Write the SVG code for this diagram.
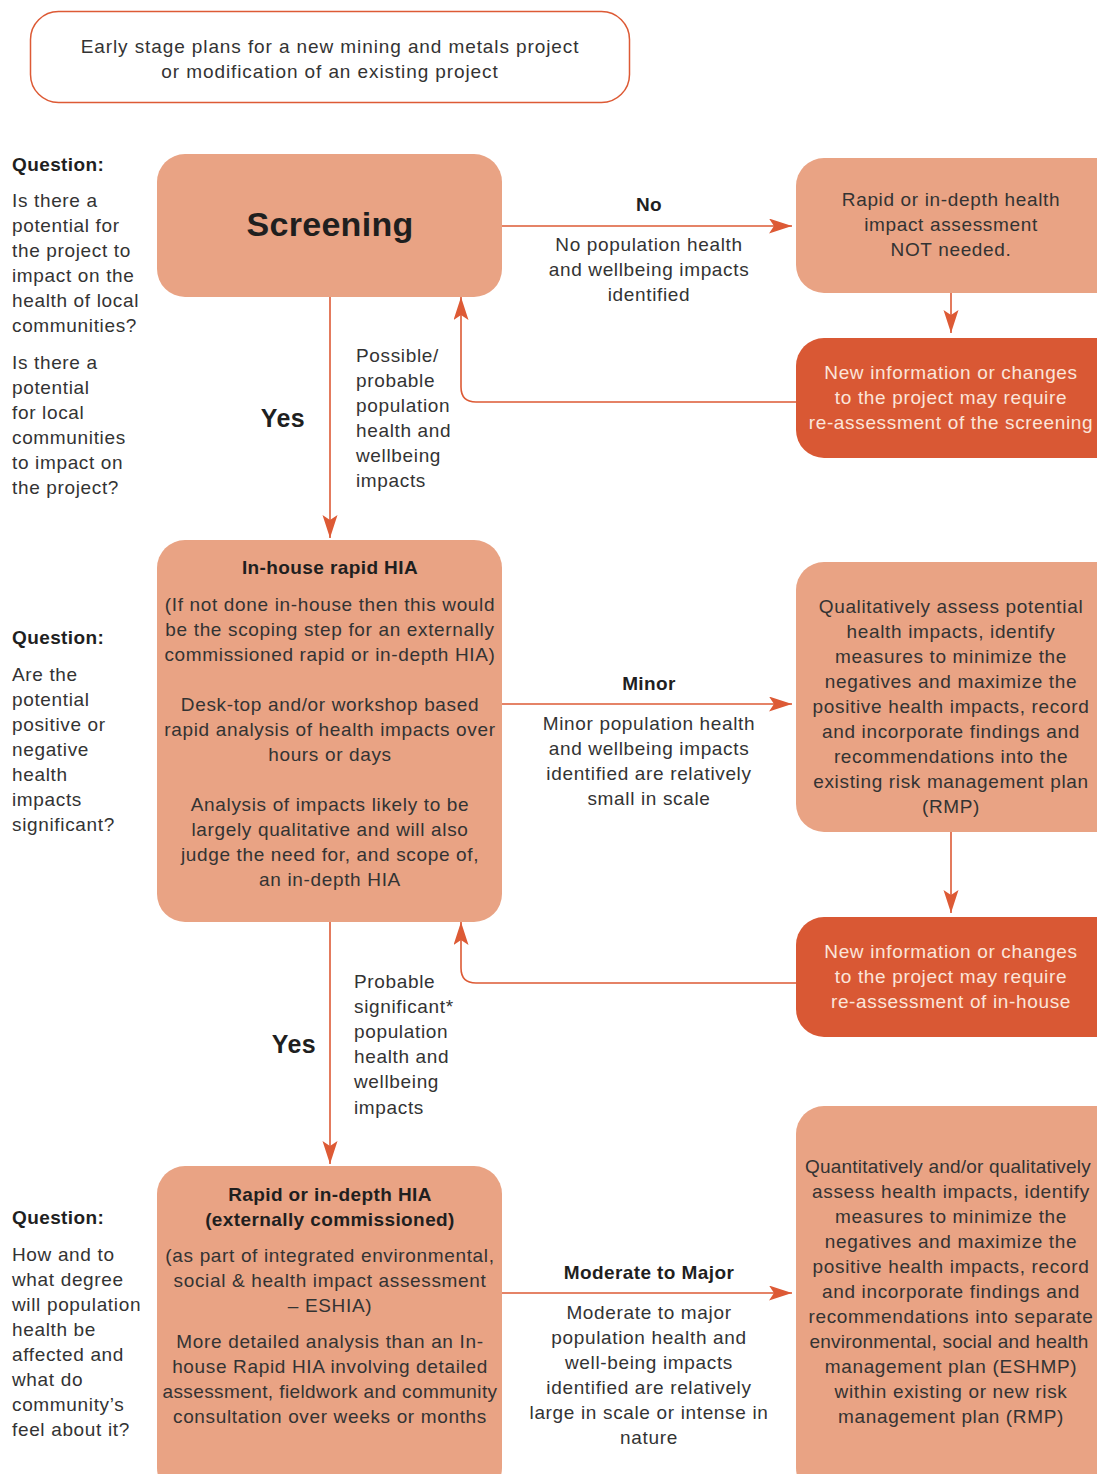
<svg xmlns="http://www.w3.org/2000/svg" width="1097" height="1474" viewBox="0 0 1097 1474">
<defs>
<marker id="ah" markerUnits="userSpaceOnUse" markerWidth="24" markerHeight="16" refX="23" refY="7.5" orient="auto">
<path d="M0,0 L23,7.5 L0,15 L5,7.5 z" fill="#DD5A35"/>
</marker>
<style>
text{font-family:"Liberation Sans",Arial,sans-serif;font-size:19px;fill:#333333;letter-spacing:0.65px}
.c{text-anchor:middle}
.b{font-weight:bold;fill:#1f1f1f;letter-spacing:0.4px}
.w{fill:#FBE5DA}
.t{letter-spacing:0.2px}
.light{fill:#E9A384}
.dark{fill:#D95834}
.ln{fill:none;stroke:#DD5A35;stroke-width:1.6}
</style>
</defs>
<rect width="1097" height="1474" fill="#ffffff"/>

<g id="start">
<rect x="30.5" y="11.5" width="599" height="91" rx="28" fill="#ffffff" stroke="#DD5A35" stroke-width="1.5"/>
<text class="c" x="330" y="53" style="letter-spacing:0.9px">Early stage plans for a new mining and metals project</text>
<text class="c" x="330" y="78" style="letter-spacing:0.9px">or modification of an existing project</text>
</g>

<g id="q1">
<text class="b" x="12" y="171">Question:</text>
<text x="12" y="207">Is there a</text>
<text x="12" y="232">potential for</text>
<text x="12" y="257">the project to</text>
<text x="12" y="282">impact on the</text>
<text x="12" y="307">health of local</text>
<text x="12" y="332">communities?</text>
<text x="12" y="369">Is there a</text>
<text x="12" y="394">potential</text>
<text x="12" y="419">for local</text>
<text x="12" y="444">communities</text>
<text x="12" y="469">to impact on</text>
<text x="12" y="494">the project?</text>
</g>

<g id="screening">
<rect class="light" x="157" y="154" width="345" height="143" rx="28"/>
<text class="c b" x="330" y="236" style="font-size:34px;letter-spacing:0.3px">Screening</text>
</g>

<g id="not-needed">
<rect class="light" x="796" y="158" width="330" height="135" rx="28"/>
<text class="c" x="951" y="206">Rapid or in-depth health</text>
<text class="c" x="951" y="231">impact assessment</text>
<text class="c" x="951" y="256">NOT needed.</text>
</g>

<g id="reassess-screening">
<rect class="dark" x="796" y="338" width="330" height="120" rx="28"/>
<text class="c w" x="951" y="379">New information or changes</text>
<text class="c w" x="951" y="404">to the project may require</text>
<text class="c w" x="951" y="429">re-assessment of the screening</text>
</g>

<g id="inhouse">
<rect class="light" x="157" y="540" width="345" height="382" rx="28"/>
<text class="c b" x="330" y="574">In-house rapid HIA</text>
<text class="c" x="330" y="611">(If not done in-house then this would</text>
<text class="c" x="330" y="636">be the scoping step for an externally</text>
<text class="c" x="330" y="661">commissioned rapid or in-depth HIA)</text>
<text class="c" x="330" y="711">Desk-top and/or workshop based</text>
<text class="c" x="330" y="736">rapid analysis of health impacts over</text>
<text class="c" x="330" y="761">hours or days</text>
<text class="c" x="330" y="811">Analysis of impacts likely to be</text>
<text class="c" x="330" y="836">largely qualitative and will also</text>
<text class="c" x="330" y="861">judge the need for, and scope of,</text>
<text class="c" x="330" y="886">an in-depth HIA</text>
</g>

<g id="q2">
<text class="b" x="12" y="644">Question:</text>
<text x="12" y="681">Are the</text>
<text x="12" y="706">potential</text>
<text x="12" y="731">positive or</text>
<text x="12" y="756">negative</text>
<text x="12" y="781">health</text>
<text x="12" y="806">impacts</text>
<text x="12" y="831">significant?</text>
</g>

<g id="qualitative">
<rect class="light" x="796" y="562" width="330" height="270" rx="28"/>
<text class="c" x="951" y="613">Qualitatively assess potential</text>
<text class="c" x="951" y="638">health impacts, identify</text>
<text class="c" x="951" y="663">measures to minimize the</text>
<text class="c" x="951" y="688">negatives and maximize the</text>
<text class="c" x="951" y="713">positive health impacts, record</text>
<text class="c" x="951" y="738">and incorporate findings and</text>
<text class="c" x="951" y="763">recommendations into the</text>
<text class="c" x="951" y="788">existing risk management plan</text>
<text class="c" x="951" y="813">(RMP)</text>
</g>

<g id="reassess-inhouse">
<rect class="dark" x="796" y="917" width="330" height="120" rx="28"/>
<text class="c w" x="951" y="958">New information or changes</text>
<text class="c w" x="951" y="983">to the project may require</text>
<text class="c w" x="951" y="1008">re-assessment of in-house</text>
</g>

<g id="external">
<rect class="light" x="157" y="1166" width="345" height="330" rx="28"/>
<text class="c b" x="330" y="1201">Rapid or in-depth HIA</text>
<text class="c b" x="330" y="1226">(externally commissioned)</text>
<text class="c" x="330" y="1262">(as part of integrated environmental,</text>
<text class="c" x="330" y="1287">social &amp; health impact assessment</text>
<text class="c" x="330" y="1312">– ESHIA)</text>
<text class="c" x="330" y="1348">More detailed analysis than an In-</text>
<text class="c" x="330" y="1373">house Rapid HIA involving detailed</text>
<text class="c" x="330" y="1398" style="letter-spacing:0.4px">assessment, fieldwork and community</text>
<text class="c" x="330" y="1423">consultation over weeks or months</text>
</g>

<g id="q3">
<text class="b" x="12" y="1224">Question:</text>
<text x="12" y="1261">How and to</text>
<text x="12" y="1286">what degree</text>
<text x="12" y="1311">will population</text>
<text x="12" y="1336">health be</text>
<text x="12" y="1361">affected and</text>
<text x="12" y="1386">what do</text>
<text x="12" y="1411">community’s</text>
<text x="12" y="1436">feel about it?</text>
</g>

<g id="quantitative">
<rect class="light" x="796" y="1106" width="330" height="390" rx="28"/>
<text class="c t" x="948" y="1173">Quantitatively and/or qualitatively</text>
<text class="c" x="951" y="1198">assess health impacts, identify</text>
<text class="c" x="951" y="1223">measures to minimize the</text>
<text class="c" x="951" y="1248">negatives and maximize the</text>
<text class="c" x="951" y="1273">positive health impacts, record</text>
<text class="c" x="951" y="1298">and incorporate findings and</text>
<text class="c" x="951" y="1323">recommendations into separate</text>
<text class="c t" x="949" y="1348">environmental, social and health</text>
<text class="c" x="951" y="1373">management plan (ESHMP)</text>
<text class="c" x="951" y="1398">within existing or new risk</text>
<text class="c" x="951" y="1423">management plan (RMP)</text>
</g>

<g id="connectors">
<path class="ln" d="M502,226 H792" marker-end="url(#ah)"/>
<path class="ln" d="M951,293 V333" marker-end="url(#ah)"/>
<path class="ln" d="M796,402 H476 Q461,402 461,387 V297" marker-end="url(#ah)"/>
<path class="ln" d="M330,297 V538" marker-end="url(#ah)"/>
<path class="ln" d="M502,704 H792" marker-end="url(#ah)"/>
<path class="ln" d="M951,832 V913" marker-end="url(#ah)"/>
<path class="ln" d="M796,983 H476 Q461,983 461,968 V922" marker-end="url(#ah)"/>
<path class="ln" d="M330,922 V1164" marker-end="url(#ah)"/>
<path class="ln" d="M502,1293 H792" marker-end="url(#ah)"/>
</g>

<g id="labels">
<text class="c b" x="649" y="211">No</text>
<text class="c" x="649" y="251">No population health</text>
<text class="c" x="649" y="276">and wellbeing impacts</text>
<text class="c" x="649" y="301">identified</text>

<text class="c b" x="283" y="427" style="font-size:25px">Yes</text>
<text x="356" y="362">Possible/</text>
<text x="356" y="387">probable</text>
<text x="356" y="412">population</text>
<text x="356" y="437">health and</text>
<text x="356" y="462">wellbeing</text>
<text x="356" y="487">impacts</text>

<text class="c b" x="649" y="690">Minor</text>
<text class="c" x="649" y="730">Minor population health</text>
<text class="c" x="649" y="755">and wellbeing impacts</text>
<text class="c" x="649" y="780">identified are relatively</text>
<text class="c" x="649" y="805">small in scale</text>

<text class="c b" x="294" y="1053" style="font-size:25px">Yes</text>
<text x="354" y="988">Probable</text>
<text x="354" y="1013">significant*</text>
<text x="354" y="1038">population</text>
<text x="354" y="1063">health and</text>
<text x="354" y="1088">wellbeing</text>
<text x="354" y="1114">impacts</text>

<text class="c b" x="649" y="1279">Moderate to Major</text>
<text class="c" x="649" y="1319">Moderate to major</text>
<text class="c" x="649" y="1344">population health and</text>
<text class="c" x="649" y="1369">well-being impacts</text>
<text class="c" x="649" y="1394">identified are relatively</text>
<text class="c" x="649" y="1419">large in scale or intense in</text>
<text class="c" x="649" y="1444">nature</text>
</g>
</svg>
